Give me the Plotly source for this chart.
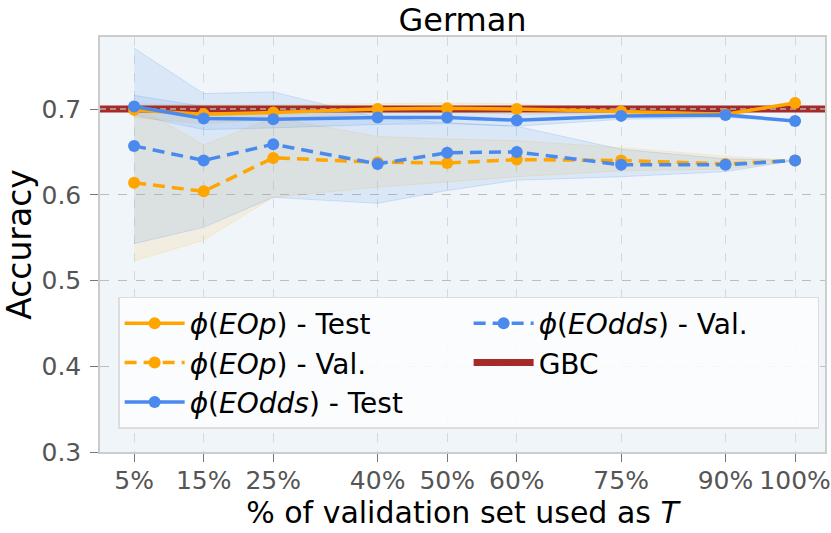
import plotly.graph_objects as go

# data
pct = [5, 15, 25, 40, 50, 60, 75, 90, 100]
tick_labels = ["5%", "15%", "25%", "40%", "50%", "60%", "75%", "90%", "100%"]

eop_test = [0.699, 0.694, 0.696, 0.700, 0.701, 0.700, 0.697, 0.694, 0.707]
eop_test_lo = [0.690, 0.683, 0.688, 0.695, 0.696, 0.695, 0.693, 0.690, 0.707]
eop_test_hi = [0.706, 0.705, 0.705, 0.706, 0.707, 0.706, 0.701, 0.698, 0.707]

eop_val = [0.614, 0.604, 0.643, 0.638, 0.637, 0.641, 0.640, 0.636, 0.640]
eop_val_lo = [0.523, 0.547, 0.597, 0.609, 0.615, 0.621, 0.628, 0.630, 0.640]
eop_val_hi = [0.705, 0.658, 0.690, 0.668, 0.665, 0.663, 0.655, 0.645, 0.640]

eodds_test = [0.703, 0.689, 0.688, 0.690, 0.690, 0.687, 0.692, 0.693, 0.686]
eodds_test_lo = [0.693, 0.676, 0.678, 0.682, 0.683, 0.680, 0.688, 0.690, 0.686]
eodds_test_hi = [0.716, 0.703, 0.698, 0.697, 0.697, 0.694, 0.696, 0.696, 0.686]

eodds_val = [0.657, 0.640, 0.659, 0.636, 0.649, 0.650, 0.635, 0.635, 0.640]
eodds_val_lo = [0.543, 0.562, 0.597, 0.590, 0.605, 0.617, 0.621, 0.627, 0.640]
eodds_val_hi = [0.771, 0.718, 0.720, 0.690, 0.684, 0.680, 0.653, 0.642, 0.640]

gbc = 0.700

x_range = [0.1, 104.3]
y_range = [0.3, 0.784]

ORANGE = "#FFA500"
BLUE = "#4A8AEE"
RED = "#A52A2A"
FONT = "DejaVu Sans"

fig = go.Figure()


def band(lo, hi, fill, edge):
    fig.add_trace(go.Scatter(x=pct, y=lo, mode="lines", line=dict(color=edge, width=1),
                             showlegend=False, hoverinfo="skip"))
    fig.add_trace(go.Scatter(x=pct, y=hi, mode="lines", line=dict(color=edge, width=1),
                             fill="tonexty", fillcolor=fill, showlegend=False, hoverinfo="skip"))


band(eop_test_lo, eop_test_hi, "rgba(255,200,90,0.15)", "rgba(255,200,90,0.25)")
band(eop_val_lo, eop_val_hi, "rgba(255,200,90,0.15)", "rgba(255,200,90,0.25)")
band(eodds_test_lo, eodds_test_hi, "rgba(80,140,235,0.13)", "rgba(80,140,235,0.2)")
band(eodds_val_lo, eodds_val_hi, "rgba(80,140,235,0.13)", "rgba(80,140,235,0.2)")

# baseline
fig.add_trace(go.Scatter(x=x_range, y=[gbc, gbc], mode="lines", name="GBC",
                         line=dict(color=RED, width=7), legendrank=4))
fig.add_trace(go.Scatter(x=x_range, y=[gbc, gbc], mode="lines", showlegend=False,
                         line=dict(color="rgba(190,190,190,0.9)", width=1.5, dash="6px,4px"),
                         hoverinfo="skip"))

dash = "12px,7px"
fig.add_trace(go.Scatter(x=pct, y=eop_test, mode="lines+markers",
                         name="<i>ϕ</i>(<i>EOp</i>) - Test", legendrank=1,
                         line=dict(color=ORANGE, width=3.5), marker=dict(size=12, color=ORANGE)))
fig.add_trace(go.Scatter(x=pct, y=eop_val, mode="lines+markers",
                         name="<i>ϕ</i>(<i>EOp</i>) - Val.", legendrank=3,
                         line=dict(color=ORANGE, width=3.5, dash=dash), marker=dict(size=12, color=ORANGE)))
fig.add_trace(go.Scatter(x=pct, y=eodds_test, mode="lines+markers",
                         name="<i>ϕ</i>(<i>EOdds</i>) - Test", legendrank=5,
                         line=dict(color=BLUE, width=3.5), marker=dict(size=12, color=BLUE)))
fig.add_trace(go.Scatter(x=pct, y=eodds_val, mode="lines+markers",
                         name="<i>ϕ</i>(<i>EOdds</i>) - Val.", legendrank=2,
                         line=dict(color=BLUE, width=3.5, dash=dash), marker=dict(size=12, color=BLUE)))

fig.update_xaxes(
    range=x_range, tickvals=pct, ticktext=tick_labels, automargin=False,
    showgrid=True, gridcolor="#D6D9DC", griddash="dash", gridwidth=1,
    ticks="outside", ticklen=8, tickcolor="#777", ticklabelstandoff=-3,
    tickfont=dict(size=25, color="#555", family=FONT),
    showline=True, linecolor="#CCCCCC", linewidth=1.5, mirror=True, zeroline=False,
    title=dict(text="% of validation set used as <i>T</i>", font=dict(size=30, color="black", family=FONT),
               standoff=0),
)
fig.update_yaxes(
    range=y_range, tickvals=[0.3, 0.4, 0.5, 0.6, 0.7], ticktext=["0.3", "0.4", "0.5", "0.6", "0.7"],
    automargin=False,
    showgrid=True, gridcolor="#BDBDBD", griddash="dash", gridwidth=1.3,
    ticks="outside", ticklen=8, tickcolor="#777", ticklabelstandoff=4,
    tickfont=dict(size=25, color="#555", family=FONT),
    showline=True, linecolor="#CCCCCC", linewidth=1.5, mirror=True, zeroline=False,
    title=dict(text="Accuracy", font=dict(size=33, color="black", family=FONT), standoff=0),
)

fig.update_layout(
    width=831, height=533,
    margin=dict(l=100, r=6, t=37, b=81),
    paper_bgcolor="white", plot_bgcolor="#EFF5F9",
    font=dict(family=FONT),
    title=dict(text="German", x=0.5, xref="paper", xanchor="center", y=0.984, yanchor="top",
               font=dict(size=32, color="black", family=FONT)),
    legend=dict(
        orientation="h", x=0.025, y=0.3735, xanchor="left", yanchor="top",
        entrywidth=274, entrywidthmode="pixels", traceorder="normal",
        bgcolor="rgba(252,253,254,0.9)", bordercolor="#DDDDDD", borderwidth=1.5,
        font=dict(size=28, color="black", family=FONT), itemwidth=60,
    ),
    showlegend=True,
)

# the page body has a default 8px margin; drop it so the figure sits at 0,0
fig.write_html("out.html", config={"displayModeBar": False},
               post_script="document.body.style.margin = '0';")
